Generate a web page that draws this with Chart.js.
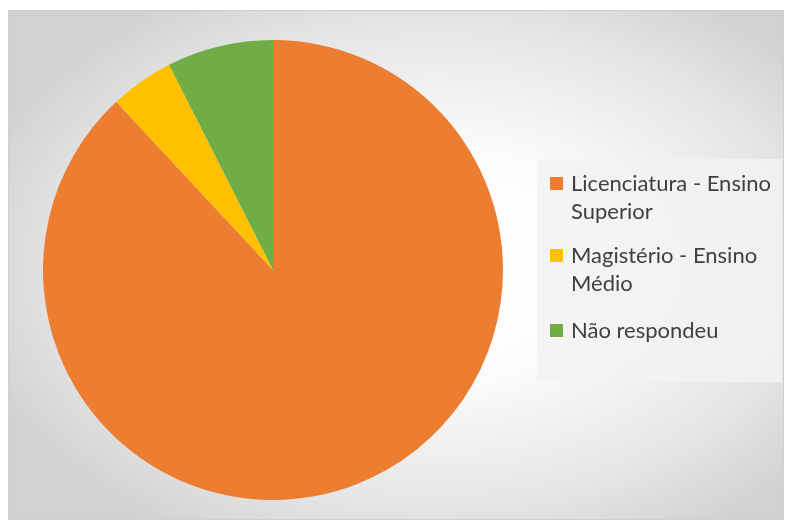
<!DOCTYPE html>
<html>
<head>
<meta charset="utf-8">
<script src="https://cdn.jsdelivr.net/npm/chart.js@4.4.0/dist/chart.umd.min.js"></script>
<style>
  html, body { margin: 0; padding: 0; background: #ffffff; width: 788px; height: 524px; overflow: hidden; }
  #frame {
    position: absolute; left: 8px; top: 10px; width: 776px; height: 510px;
    box-sizing: border-box; border: 1px solid #d0d0d0;
    background: radial-gradient(ellipse 62% 62% at 55% 50%, #ffffff 0%, #fcfcfc 35%, #e6e6e6 75%, #d2d2d2 100%);
  }
  #chartWrap { position: absolute; left: 0; top: 0; width: 774px; height: 508px; }
  #legend {
    position: absolute; left: 528px; top: 148px; width: 245px; height: 223px;
    background: rgba(242,242,242,0.85);
    font-family: Lato, "Open Sans", sans-serif; font-size: 22px; color: #404040;
  }
  .item { position: absolute; left: 13px; display: flex; align-items: flex-start; }
  .mark { width: 13px; height: 13px; margin-top: 8px; margin-right: 8px; flex: none; }
  .txt { line-height: 28px; width: 215px; }
</style>
</head>
<body>
<div id="frame">
  <div id="chartWrap"><canvas id="c"></canvas></div>
  <div id="legend"></div>
</div>
<script>
const categories = ["Licenciatura - Ensino Superior", "Magistério - Ensino Médio", "Não respondeu"];
const values = [59, 3, 5];
const colors = ["#ED7D31", "#FFC000", "#70AD47"];
const legendTops = [10, 82, 157];

const ctx = document.getElementById('c');
new Chart(ctx, {
  type: 'pie',
  data: {
    labels: categories,
    datasets: [{ data: values, backgroundColor: colors, borderWidth: 0 }]
  },
  options: {
    responsive: true,
    maintainAspectRatio: false,
    animation: false,
    layout: { padding: { left: 34, top: 29, right: 280, bottom: 19 } },
    plugins: { legend: { display: false }, tooltip: { enabled: false } }
  }
});

const lg = document.getElementById('legend');
categories.forEach((cat, i) => {
  const it = document.createElement('div');
  it.className = 'item';
  it.style.top = legendTops[i] + 'px';
  const m = document.createElement('div');
  m.className = 'mark';
  m.style.background = colors[i];
  const t = document.createElement('div');
  t.className = 'txt';
  t.textContent = cat;
  it.appendChild(m); it.appendChild(t);
  lg.appendChild(it);
});
</script>
</body>
</html>
